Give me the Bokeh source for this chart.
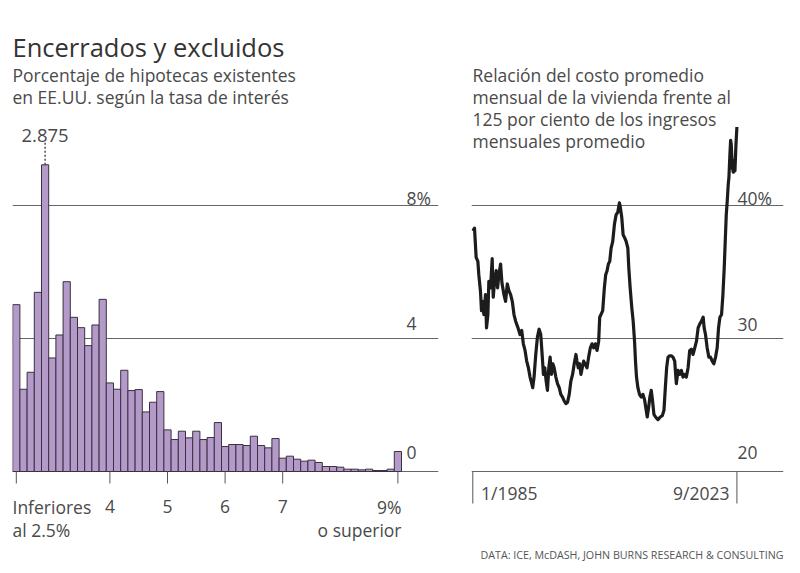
from bokeh.plotting import figure
from bokeh.models import Range1d, FixedTicker, Label, Grid
from bokeh.layouts import row
from bokeh.embed import file_html
from bokeh.resources import INLINE

FONT = "Open Sans"
TITLE_C = "#333333"
TEXT_C = "#4a4a4a"
GRID_C = "#666666"
TICK_C = "#555555"
BODY = "17.5px"

# ---------------- data ----------------
# Left: share of existing US mortgages by interest rate (bucket centres, 1/8-point steps)
rate_buckets = [2.375 + 0.125 * i for i in range(54)]   # first = "below 2.5%", last = "9% or higher"
mortgage_share = [5.01, 2.47, 2.98, 5.38, 9.21, 3.41, 4.10, 5.70, 4.63, 4.32,
                  3.78, 4.40, 5.17, 2.66, 2.47, 3.04, 2.43, 2.46, 1.79, 2.08,
                  2.40, 1.25, 0.96, 1.21, 1.01, 1.21, 0.96, 1.02, 1.47, 0.75,
                  0.81, 0.81, 0.78, 1.06, 0.78, 0.71, 0.99, 0.40, 0.46, 0.37,
                  0.31, 0.34, 0.27, 0.15, 0.15, 0.13, 0.07, 0.07, 0.05, 0.07,
                  0.03, 0.03, 0.07, 0.60]
left_xticks = [2.375, 4, 5, 6, 7, 9]
left_xlabels = ["Inferiores\nal 2.5%", "4", "5", "6", "7", "9%\no superior"]
left_yticks = [8, 4, 0]
left_ylabels = ["8%", "4", "0"]
peak_rate = 2.875
peak_label = "2.875"

# Right: monthly housing cost vs 125% of median monthly income
affordability = [
    (1985.00, 38.1), (1985.25, 38.3), (1985.49, 36.1), (1985.74, 35.8), (1985.88, 34.8),
    (1986.13, 33.5), (1986.27, 32.1), (1986.42, 32.8), (1986.62, 31.8), (1986.86, 33.3),
    (1987.01, 30.8), (1987.21, 31.8), (1987.35, 34.3), (1987.60, 33.8), (1987.84, 36.0),
    (1987.99, 33.1), (1988.19, 34.3), (1988.43, 35.1), (1988.63, 33.8), (1988.82, 34.8),
    (1989.07, 35.6), (1989.26, 34.2), (1989.56, 33.3), (1989.80, 32.8), (1990.05, 34.1),
    (1990.29, 33.6), (1990.54, 33.3), (1990.78, 32.8), (1991.03, 31.8), (1991.27, 31.3),
    (1991.62, 30.8), (1991.91, 30.3), (1992.16, 30.6), (1992.40, 29.6), (1992.65, 29.1),
    (1992.89, 28.3), (1993.14, 27.8), (1993.38, 27.1), (1993.63, 26.6), (1993.77, 26.3),
    (1993.97, 27.1), (1994.22, 28.8), (1994.46, 30.1), (1994.71, 30.7), (1994.95, 30.3),
    (1995.15, 28.8), (1995.34, 27.3), (1995.54, 27.8), (1995.74, 26.8), (1995.93, 26.1),
    (1996.13, 27.8), (1996.32, 28.6), (1996.52, 27.3), (1996.72, 28.1), (1996.91, 27.8),
    (1997.16, 27.1), (1997.40, 26.6), (1997.65, 26.3), (1997.89, 25.8), (1998.14, 25.6),
    (1998.38, 25.3), (1998.63, 25.1), (1998.87, 25.2), (1999.12, 25.8), (1999.36, 26.8),
    (1999.61, 27.3), (1999.85, 28.1), (2000.10, 28.8), (2000.25, 28.3), (2000.44, 27.8),
    (2000.64, 28.1), (2000.83, 27.3), (2001.03, 27.8), (2001.23, 28.3), (2001.42, 28.1),
    (2001.72, 27.8), (2001.96, 28.6), (2002.21, 29.3), (2002.45, 29.6), (2002.70, 29.3),
    (2002.94, 29.6), (2003.19, 29.1), (2003.43, 29.8), (2003.58, 31.6), (2003.77, 31.8),
    (2004.02, 32.1), (2004.26, 33.8), (2004.46, 34.8), (2004.66, 35.1), (2004.85, 35.6),
    (2005.05, 35.8), (2005.25, 36.8), (2005.49, 37.3), (2005.74, 38.6), (2005.98, 39.3),
    (2006.23, 39.5), (2006.47, 40.2), (2006.62, 39.8), (2006.81, 39.1), (2007.01, 37.8),
    (2007.21, 37.6), (2007.45, 37.3), (2007.70, 36.8), (2007.84, 35.3), (2008.04, 33.8),
    (2008.28, 32.3), (2008.48, 31.3), (2008.68, 29.8), (2008.82, 28.3), (2008.97, 27.1),
    (2009.17, 26.3), (2009.41, 25.8), (2009.66, 25.6), (2009.90, 25.8), (2010.15, 25.4),
    (2010.39, 24.6), (2010.54, 24.1), (2010.74, 24.8), (2010.93, 25.6), (2011.13, 26.1),
    (2011.32, 25.3), (2011.52, 24.3), (2011.76, 24.1), (2012.11, 23.9), (2012.45, 24.1),
    (2012.75, 24.2), (2012.99, 24.6), (2013.19, 26.3), (2013.38, 27.8), (2013.58, 28.6),
    (2013.82, 28.7), (2014.07, 28.7), (2014.31, 28.6), (2014.56, 28.3), (2014.80, 26.6),
    (2015.05, 27.6), (2015.29, 27.3), (2015.54, 27.6), (2015.78, 27.1), (2016.03, 27.3),
    (2016.27, 27.1), (2016.52, 27.8), (2016.76, 29.1), (2017.01, 29.2), (2017.25, 28.8),
    (2017.50, 29.3), (2017.75, 29.8), (2017.99, 30.8), (2018.24, 31.1), (2018.48, 31.3),
    (2018.73, 31.6), (2018.87, 30.8), (2019.07, 30.3), (2019.31, 29.3), (2019.56, 28.6),
    (2019.80, 28.6), (2020.05, 28.3), (2020.29, 28.1), (2020.54, 28.6), (2020.78, 29.3),
    (2020.98, 30.8), (2021.18, 31.6), (2021.42, 31.8), (2021.62, 33.3), (2021.81, 35.3),
    (2021.96, 37.3), (2022.11, 39.3), (2022.25, 40.3), (2022.40, 41.6), (2022.50, 42.1),
    (2022.65, 43.9), (2022.75, 44.9), (2022.84, 44.6), (2022.99, 42.9), (2023.14, 42.5),
    (2023.28, 43.4), (2023.38, 42.6), (2023.53, 44.6), (2023.67, 45.9),
]
months = [t for t, _ in affordability]
cost_ratio = [v for _, v in affordability]
right_xticks = [1985.0, 2023.67]
right_xlabels = ["1/1985", "9/2023"]
right_yticks = [40, 30, 20]
right_ylabels = ["40%", "30", "20"]

title = "Encerrados y excluidos"
left_sub = ["Porcentaje de hipotecas existentes", "en EE.UU. según la tasa de interés"]
right_sub = ["Relación del costo promedio", "mensual de la vivienda frente al",
             "125 por ciento de los ingresos", "mensuales promedio"]
source = "DATA: ICE, McDASH, JOHN BURNS RESEARCH & CONSULTING"

# ---------------- layout geometry (page pixels) ----------------
H = 573
BASE = 471
L_W, L_LEFT, L_RIGHT = 460, 12, 438
L_SX, L_SY = 57.6, 33.3
L_X0 = left_xticks[0] - (15.8 - L_LEFT) / L_SX
R_OFF = L_W
R_W, R_LEFT, R_RIGHT = 340, 471, 783
R_SX, R_SY = 6.83, 13.3
R_X0 = right_xticks[0] - (472.3 - R_LEFT) / R_SX
R_Y0 = 20


def lx(px):
    return L_X0 + (px - L_LEFT) / L_SX


def ly(py):
    return (BASE - py) / L_SY


def rx(px):
    return R_X0 + (px - R_LEFT) / R_SX


def ry(py):
    return R_Y0 + (BASE - py) / R_SY


def lab(p, x, y, text, size=BODY, color=TEXT_C, align="left"):
    p.add_layout(Label(x=x, y=y, text=text, text_font=FONT, text_font_size=size,
                       text_color=color, text_align=align, text_baseline="alphabetic"))


def make_fig(width, left_px, right_px, xr, yr, grid_ticks):
    p = figure(width=width, height=H, output_backend="svg", toolbar_location=None,
               x_range=xr, y_range=yr, x_axis_location=None, y_axis_location=None,
               min_border_left=left_px, min_border_right=right_px,
               min_border_top=0, min_border_bottom=0)
    p.outline_line_color = None
    for g in list(p.grid):
        g.visible = False
    p.add_layout(Grid(dimension=1, ticker=FixedTicker(ticks=grid_ticks),
                      grid_line_color=GRID_C, grid_line_width=1))
    return p


# ---------------- left chart ----------------
left = make_fig(L_W, L_LEFT, L_W - L_RIGHT,
                Range1d(lx(L_LEFT), lx(L_RIGHT)), Range1d(ly(H), ly(0)),
                [0] + left_yticks[:-1])

left.vbar(x=rate_buckets, top=mortgage_share, width=0.125, bottom=0,
          fill_color="#b49ac9", line_color="#3b3040", line_width=1)

# tick marks under the baseline
left.segment(x0=left_xticks, y0=[0] * len(left_xticks), x1=left_xticks,
             y1=[ly(483)] * len(left_xticks), line_color=TICK_C, line_width=1)

peak_val = mortgage_share[rate_buckets.index(peak_rate)]
left.segment(x0=[peak_rate], y0=[peak_val], x1=[peak_rate], y1=[ly(140)],
             line_color="#333333", line_width=1.3, line_dash="2 2")
lab(left, peak_rate, ly(135), peak_label, size="18.5px", align="center")

for t, s, b in zip(left_yticks, left_ylabels, [197, 323, 452]):
    lab(left, lx(406), ly(b), s)

for t, s in zip(left_xticks, left_xlabels):
    lines = s.split("\n")
    if t == left_xticks[0]:
        lab(left, lx(12), ly(506), lines[0])
        lab(left, lx(12), ly(529), lines[1])
    elif t == left_xticks[-1]:
        lab(left, lx(401), ly(506), lines[0], align="right")
        lab(left, lx(401), ly(529), lines[1], align="right")
    else:
        lab(left, t, ly(506), s, align="center")

lab(left, lx(12), ly(46), title, size="25.5px", color=TITLE_C)
for i, s in enumerate(left_sub):
    lab(left, lx(12), ly(74 + 22 * i), s)

# ---------------- right chart ----------------
right = make_fig(R_W, R_LEFT - R_OFF, R_OFF + R_W - R_RIGHT,
                 Range1d(rx(R_LEFT), rx(R_RIGHT)), Range1d(ry(H), ry(0)),
                 right_yticks[::-1])

right.line(months, cost_ratio, line_color="#1c1c1c", line_width=3.2, line_join="round")

right.segment(x0=right_xticks, y0=[R_Y0] * 2, x1=right_xticks, y1=[ry(503)] * 2,
              line_color=TICK_C, line_width=1)

for t, s, b in zip(right_yticks, right_ylabels, [197, 324, 452]):
    lab(right, rx(737), ry(b), s)

lab(right, rx(480.5), ry(492), right_xlabels[0])
lab(right, rx(729), ry(492), right_xlabels[1], align="right")

for i, s in enumerate(right_sub):
    lab(right, rx(472), ry(74 + 22 * i), s)

lab(right, rx(783), ry(554), source, size="10.7px", color="#555555", align="right")

page = row(left, right)
open("out.html", "w").write(file_html(page, INLINE))
